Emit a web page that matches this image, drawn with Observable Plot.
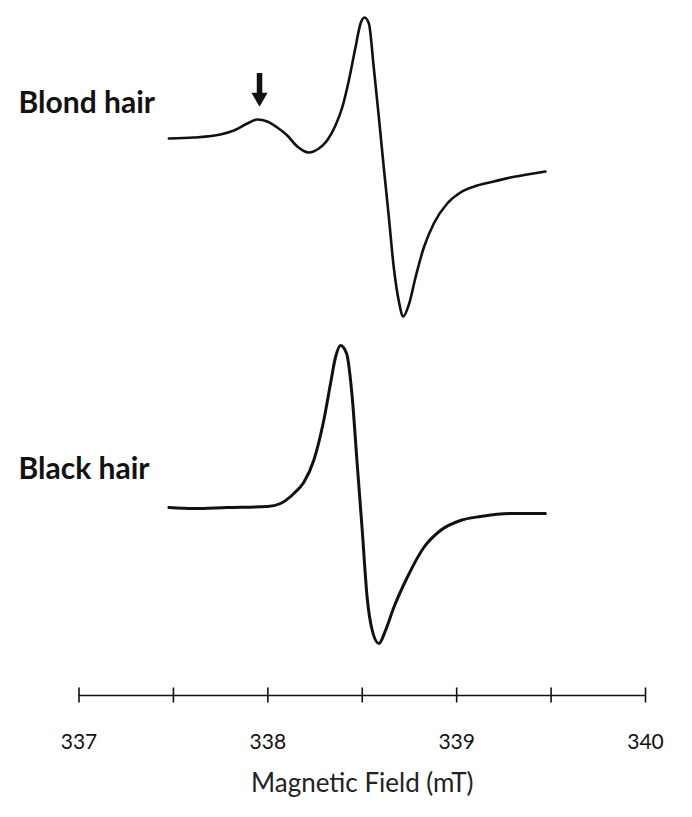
<!DOCTYPE html>
<html>
<head>
<meta charset="utf-8">
<script src="https://cdn.jsdelivr.net/npm/d3@7"></script>
<script src="https://cdn.jsdelivr.net/npm/@observablehq/plot@0.6"></script>
<style>
  html, body { margin: 0; padding: 0; background: #fff; }
  #chart { width: 692px; height: 817px; }
</style>
</head>
<body>
<div id="chart"></div>
<script>
// Magnetic field (mT) and EPR first-derivative signal (arbitrary units)
const fieldBlond = [337.476, 337.608, 337.749, 337.820, 337.891, 337.944, 337.997, 338.050, 338.103, 338.156,
  338.217, 338.270, 338.314, 338.358, 338.394, 338.429, 338.464, 338.491, 338.512, 338.535,
  338.561, 338.588, 338.614, 338.641, 338.667, 338.694, 338.717, 338.747, 338.782, 338.826,
  338.879, 338.950, 339.020, 339.109, 339.197, 339.285, 339.374, 339.470];
const signalBlond = [0, 1, 4, 8, 15, 19, 17, 11, 3, -8,
  -14, -10, -2, 13, 31, 58, 91, 115, 121, 115,
  71, 21, -29, -79, -129, -163, -178, -166, -139, -109,
  -85, -65, -54, -47, -43, -39, -36, -33];

const fieldBlack = [337.476, 337.608, 337.785, 337.997, 338.067, 338.138, 338.190, 338.243, 338.296, 338.332,
  338.358, 338.385, 338.417, 338.447, 338.473, 338.500, 338.526, 338.553, 338.588, 338.623,
  338.667, 338.738, 338.826, 338.914, 339.020, 339.126, 339.285, 339.470];
const signalBlack = [0, -1, 0, 1, 4, 14, 25, 47, 87, 124,
  150, 162, 154, 110, 44, -23, -90, -123, -136, -123,
  -100, -70, -40, -23, -13, -9, -6, -6];

const seriesNames = ["Blond hair", "Black hair"];
const seriesOffsets = [557, 188];   // vertical stacking of the two spectra (a.u.)

const tickValues = [337, 337.5, 338, 338.5, 339, 339.5, 340];
const tickLabels = [337, 338, 339, 340];
const xLabel = "Magnetic Field (mT)";

// marked peak (arrow) on the blond spectrum
const arrowField = 337.956;

// build tables
const blond = fieldBlond.map((f, i) => ({field: f, value: signalBlond[i] + seriesOffsets[0]}));
const black = fieldBlack.map((f, i) => ({field: f, value: signalBlack[i] + seriesOffsets[1]}));
const labelRows = seriesNames.map((n, i) => ({name: n, field: 336.68, value: seriesOffsets[i] + [26, 29][i]}));

const chart = Plot.plot({
  width: 692,
  height: 817,
  marginLeft: 78.5,
  marginRight: 47,
  marginTop: 0,
  marginBottom: 122,
  x: {domain: [337, 340], axis: null},
  y: {domain: [0, 695], axis: null},
  style: {fontFamily: "Lato, 'Open Sans', sans-serif", color: "#111", background: "#fff", overflow: "visible"},
  marks: [
    // axis line, centered ticks, tick labels, axis title
    Plot.ruleY([0], {stroke: "#111", strokeWidth: 1.6}),
    Plot.ruleX(tickValues, {x: d => d, y1: -7.5, y2: 7.5, stroke: "#111", strokeWidth: 1.6}),
    Plot.text(tickLabels, {x: d => d, y: 0, dy: 53, lineAnchor: "bottom", text: d => String(d), fontSize: 21, fill: "#111"}),
    Plot.text([xLabel], {frameAnchor: "bottom", dy: 96, lineAnchor: "bottom", fontSize: 26, fill: "#222"}),
    // spectra
    Plot.line(blond, {x: "field", y: "value", stroke: "#111", strokeWidth: 2.6, curve: "monotone-x"}),
    Plot.line(black, {x: "field", y: "value", stroke: "#111", strokeWidth: 3, curve: "monotone-x"}),
    // series labels
    Plot.text(labelRows, {x: "field", y: "value", text: "name", textAnchor: "start", lineAnchor: "bottom",
      fontSize: 30, fontWeight: "bold", fill: "#111"}),
    // arrow
    Plot.ruleX([arrowField], {y1: 622, y2: 596, stroke: "#111", strokeWidth: 5.5}),
    Plot.dot([arrowField], {x: d => d, y: 598, symbol: "triangle", rotate: 180, r: 6, fill: "#111", stroke: "none"})
  ]
});
document.getElementById("chart").appendChild(chart);
</script>
</body>
</html>
